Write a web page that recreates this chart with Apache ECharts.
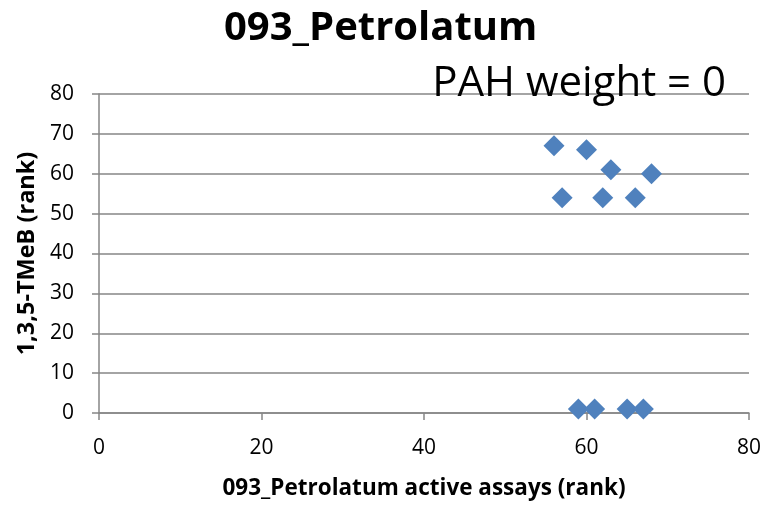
<!DOCTYPE html>
<html>
<head>
<meta charset="utf-8">
<script src="https://cdn.jsdelivr.net/npm/echarts@6/dist/echarts.min.js"></script>
<style>
  html, body { margin: 0; padding: 0; background: #fff; overflow: hidden; }
  #chart { width: 764px; height: 505px; }
</style>
</head>
<body>
<div id="chart"></div>
<script>
// Ranks of active assays (x) against 1,3,5-TMeB rank (y)
const assayRank = [56, 60, 63, 68, 57, 62, 66, 59, 61, 65, 67];
const tmebRank  = [67, 66, 61, 60, 54, 54, 54, 1, 1, 1, 1];
const xTicks = [0, 20, 40, 60, 80];
const yTicks = [0, 10, 20, 30, 40, 50, 60, 70, 80];

const FONT = '"Open Sans", sans-serif';
const AXIS_GREY = '#868686';
const points = assayRank.map((x, i) => [x, tmebRank[i]]);

const chart = echarts.init(document.getElementById('chart'), null, { renderer: 'canvas' });
chart.setOption({
  animation: false,
  backgroundColor: '#ffffff',
  title: [
    {
      text: '093_Petrolatum',
      left: 219,
      top: 4,
      textStyle: { fontFamily: FONT, fontWeight: 'bold', fontSize: 40, color: '#000' }
    },
    {
      text: 'PAH weight = 0',
      right: 33,
      top: 58,
      textStyle: { fontFamily: FONT, fontWeight: 'normal', fontSize: 42, color: '#000' }
    }
  ],
  grid: { left: 99, right: 14, top: 94, bottom: 87 },
  xAxis: {
    type: 'value',
    min: xTicks[0],
    max: xTicks[xTicks.length - 1],
    interval: 20,
    name: '093_Petrolatum active assays (rank)',
    nameLocation: 'middle',
    nameGap: 64,
    nameTextStyle: { fontFamily: FONT, fontWeight: 'bold', fontSize: 22.5, color: '#000' },
    axisLine: { show: true, lineStyle: { color: AXIS_GREY, width: 1.5 } },
    axisTick: { show: true, length: 7, lineStyle: { color: AXIS_GREY, width: 1.5 } },
    axisLabel: { fontFamily: FONT, fontSize: 21, color: '#000', margin: 25 },
    splitLine: { show: false }
  },
  yAxis: {
    type: 'value',
    min: yTicks[0],
    max: yTicks[yTicks.length - 1],
    interval: 10,
    name: '1,3,5-TMeB (rank)',
    nameLocation: 'middle',
    nameGap: 58,
    nameTextStyle: { fontFamily: FONT, fontWeight: 'bold', fontSize: 23.5, color: '#000' },
    axisLine: { show: true, lineStyle: { color: AXIS_GREY, width: 1.5 } },
    axisTick: { show: true, length: 7, lineStyle: { color: AXIS_GREY, width: 1.5 } },
    axisLabel: { fontFamily: FONT, fontSize: 21, color: '#000', margin: 25 },
    splitLine: { show: true, lineStyle: { color: AXIS_GREY, width: 1.5 } }
  },
  series: [{
    type: 'scatter',
    data: points,
    symbol: 'diamond',
    symbolSize: 21,
    itemStyle: { color: '#4f81bd', opacity: 1 },
    z: 5
  }]
});
</script>
</body>
</html>
